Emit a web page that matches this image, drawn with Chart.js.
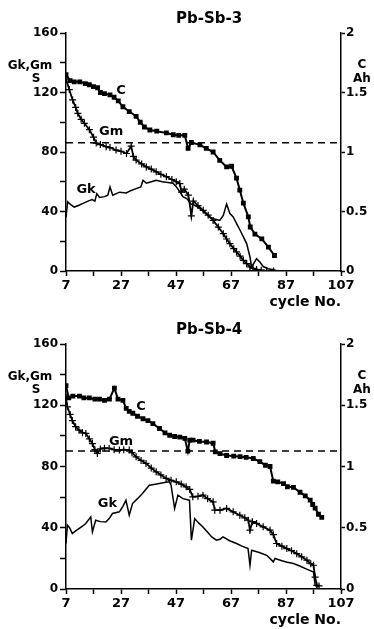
<!DOCTYPE html>
<html>
<head>
<meta charset="utf-8">
<script src="https://cdn.jsdelivr.net/npm/chart.js@4"></script>
<style>
  body { margin: 0; background: #fff; }
  canvas { position: absolute; left: 0; }
  #chart3 { top: 0; }
  #chart4 { top: 310px; }
</style>
</head>
<body>
<canvas id="chart3" width="374" height="310"></canvas>
<canvas id="chart4" width="374" height="319"></canvas>
<script>
// cycle No. ticks
const xTicks = [7, 17, 27, 37, 47, 57, 67, 77, 87, 97, 107];

// Pb-Sb-3 : [cycle, value]  (C in Ah, Gk/Gm in S)
const c3 = [[7,1.65],[8.5,1.6],[10,1.59],[12,1.59],[14,1.575],[15.5,1.565],[17,1.55],[18.5,1.54],[19.5,1.5],[21,1.49],
  [23,1.48],[24.5,1.46],[26,1.43],[27.7,1.38],[30,1.34],[32.5,1.3],[34,1.25],[35.5,1.21],[37.5,1.185],[40,1.175],
  [43.5,1.16],[46,1.145],[48,1.14],[50.2,1.14],[51.4,1.03],[52.6,1.08],[55.7,1.06],[58,1.03],[60.5,1.0],[62.9,0.93],
  [65.4,0.875],[67.2,0.88],[69,0.78],[70.2,0.68],[71.5,0.57],[73.3,0.455],[74,0.37],[75.7,0.31],[78.2,0.27],[80.6,0.2],[82.8,0.13]];
const gm3 = [[7,129],[8.2,122],[9.4,115],[10.5,110],[11.3,106],[12.5,102],[13.7,99.3],[15.5,95],[17,90],[18,86],
  [19.5,85],[21.6,83.6],[23,83],[25.2,81.3],[27,80.5],[29,79],[30.7,84],[31.5,77],[32.5,74.6],[34.5,72],
  [36.2,70],[38,68.5],[39.8,66.7],[41.5,65],[43.5,63.4],[45.5,61.5],[47.1,60],[48.4,58.8],[49,53],[50,55],
  [51.5,51],[52.6,37],[53.3,47],[55,44],[56.9,40.8],[58.7,37.5],[60.5,34],[62.4,29.5],[64.2,25.1],[65.4,21.5],
  [66.6,18.4],[68,15],[69,12.8],[70.3,10],[71.5,7.2],[72.7,5],[73.9,2.7],[75,1.8],[76.3,1],[78,0.5],[80,0],[82.5,0]];
const gk3 = [[7,36],[7.6,46.5],[8.5,45],[10,43],[11.5,44],[13,45.3],[15,47],[16.5,48],[17.5,47],[18.2,52],
  [19.2,49.5],[21,50],[22.2,51],[23,56.5],[24,51],[26.5,53],[28.9,52.5],[30.5,54],[32.5,55.4],[34.2,56.5],
  [35,61],[36.2,59],[38,60],[39.8,61],[42,60],[44,59.5],[45.9,59],[47.1,56.6],[48.5,53],[49.5,50],
  [51,48.5],[52.5,45],[54,44],[55.7,42],[57.5,39],[59.3,36],[61,35],[62.9,34],[64.2,37.4],[65.4,45],
  [66.6,38.6],[67.8,36.3],[69,32],[70.3,27.4],[71.5,23],[72.7,18.4],[73.9,9.4],[74.5,2.7],[76.3,8.3],[77.5,6],
  [78.7,3],[80.5,1.5],[82.4,0.8],[84,0]];
const ref3 = [[7,86.3],[107,86.3]];

// Pb-Sb-4
const c4 = [[7,1.66],[8,1.56],[9.5,1.575],[11.9,1.575],[13.5,1.56],[15.5,1.56],[17.5,1.55],[19.2,1.55],[21,1.54],[22.8,1.55],
  [24.6,1.64],[25.9,1.55],[27.7,1.54],[28.9,1.475],[30,1.45],[31.3,1.435],[33,1.41],[35,1.39],[36.8,1.375],[38.6,1.35],
  [41,1.31],[43,1.275],[44.7,1.255],[46.5,1.245],[48.4,1.24],[50.2,1.23],[51.3,1.125],[52,1.215],[53.2,1.215],[55.5,1.205],
  [58.1,1.2],[60.5,1.19],[61.3,1.12],[63,1.105],[65.4,1.09],[68,1.085],[70.3,1.08],[72.5,1.075],[75.1,1.065],[77.5,1.04],
  [79.5,1.01],[81.2,1.0],[82.4,0.88],[84,0.875],[86.1,0.86],[87.5,0.835],[89.7,0.83],[92.1,0.79],[94,0.76],[95.8,0.725],
  [96.7,0.69],[97.6,0.66],[98.8,0.61],[100,0.585]];
const gm4 = [[7,125],[7.5,119],[8.5,114],[9.3,110],[10.5,106],[11.7,103.8],[13,102],[14.2,101.6],[15.5,98],[16.6,95],
  [17.5,91],[18.4,88.5],[19.5,91.5],[21,92],[22.7,91.8],[24.5,91],[26.4,90.7],[28,91],[30,90.7],[31,89],
  [32.5,86.3],[34.3,84],[36.1,82],[38,79],[39.8,76.5],[41.5,74.5],[43.4,72.2],[45.2,71],[47.1,70],[48.9,68.5],
  [50.7,66.7],[52,65],[53.1,60.2],[55,60.5],[56.8,61.3],[58.5,59],[60.5,56.9],[61.1,51.5],[63,51.5],[65.4,52.6],
  [67.8,50.4],[70.2,48.2],[72,46.5],[73.3,44.9],[73.9,38.4],[74.8,44],[76.3,42.8],[78.7,40.6],[81.2,38.4],[82.4,35.5],
  [83.6,29.7],[85.5,28],[87.3,26.4],[89,25],[90.9,23.1],[92.7,21],[94.6,18.8],[96,16.5],[97,15.5],[97.6,7.8],
  [98.2,2.4],[99,2]];
const gk4 = [[7,29.7],[7.5,41.7],[8.3,40],[9.3,36.2],[10.5,38],[11.7,39.5],[13,41],[14.2,42.8],[16,47.1],[16.6,37.3],
  [17.8,44.9],[19.5,44],[21.5,43.8],[22.7,46],[23.9,49.3],[26.4,50.4],[27.7,54],[28.8,58],[30,48.2],[31.2,55.8],
  [33,59],[34.8,62.4],[36,65],[37.3,67.8],[39,68.3],[40.9,68.9],[42.8,69.5],[44.6,70],[45.2,67.8],[46.5,52.6],
  [47.7,61.3],[49.5,59],[51.9,58],[52.6,31.9],[53.8,46],[55.3,43],[56.8,40.5],[58.5,37],[60,34],[61.7,31.9],
  [63,32.5],[64.1,34],[66.5,31.5],[69,29.7],[71,28],[73.2,26.4],[73.9,15.5],[74.5,25.3],[77,24],[80,22],
  [82.4,17.7],[83,19.9],[85.5,18.5],[87.5,17.5],[89.7,16.6],[92,15],[94.5,13],[97,11.1],[97.6,2.4],[98.8,1.3]];
const ref4 = [[7,90.2],[107,90.2]];

const FONT = '"DejaVu Sans", Arial, sans-serif';
Chart.defaults.font.family = FONT;
Chart.defaults.font.weight = 'bold';
Chart.defaults.color = '#000';

const pts = arr => arr.map(p => ({ x: p[0], y: p[1] }));

// titles, axis captions and curve names
const textPlugin = {
  id: 'texts',
  afterDraw(chart, args, opts) {
    const ctx = chart.ctx;
    const a = chart.chartArea;
    const xs = chart.scales.x, ys = chart.scales.y;
    ctx.save();
    ctx.fillStyle = '#000';
    ctx.textBaseline = 'middle';
    ctx.textAlign = 'center';
    ctx.font = 'bold 15px ' + FONT;
    ctx.fillText(opts.title, 209, a.top - 14);
    ctx.font = 'bold 12px ' + FONT;
    ctx.fillText('Gk,Gm', 30, a.top + 33);
    ctx.fillText('S', 36, a.top + 46);
    ctx.fillText('C', 362, a.top + 32);
    ctx.fillText('Ah', 362, a.top + 46);
    ctx.font = 'bold 14px ' + FONT;
    ctx.textAlign = 'right';
    ctx.fillText('cycle No.', a.right, a.bottom + 31);
    ctx.textAlign = 'center';
    ctx.font = 'bold 13px ' + FONT;
    opts.labels.forEach(l => ctx.fillText(l[0], xs.getPixelForValue(l[1]), ys.getPixelForValue(l[2])));
    ctx.restore();
  }
};

function makeChart(id, title, c, gm, gk, ref, labels, xHeight, topPad) {
  const axisGrid = len => ({ drawOnChartArea: false, drawTicks: true, tickLength: len, color: '#000', tickWidth: 1.5 });
  const axisBorder = { display: true, color: '#000', width: 1.5 };
  new Chart(document.getElementById(id), {
    type: 'line',
    data: {
      datasets: [
        { data: pts(ref), borderColor: '#000', borderWidth: 1.5, borderDash: [7, 5], pointRadius: 0, yAxisID: 'y' },
        { data: pts(gk), borderColor: '#000', borderWidth: 1.5, pointRadius: 0, yAxisID: 'y' },
        { data: pts(gm), borderColor: '#000', borderWidth: 1.8, pointStyle: 'cross', pointRadius: 3.5,
          pointBorderWidth: 1.2, pointBorderColor: '#000', yAxisID: 'y' },
        { data: pts(c), borderColor: '#000', borderWidth: 2, pointStyle: 'rect', pointRadius: 2,
          pointBackgroundColor: '#000', pointBorderColor: '#000', yAxisID: 'y1' }
      ]
    },
    options: {
      responsive: false,
      animation: false,
      devicePixelRatio: 1,
      layout: { padding: { top: topPad, left: 0, right: 0, bottom: 0 } },
      elements: { line: { tension: 0 } },
      plugins: {
        legend: { display: false },
        tooltip: { enabled: false },
        texts: { title: title, labels: labels }
      },
      scales: {
        x: {
          type: 'linear', min: 7, max: 107,
          afterBuildTicks: s => { s.ticks = xTicks.map(v => ({ value: v })); },
          ticks: { callback: v => ((Math.round(v) - 7) % 20 === 0 ? String(Math.round(v)) : ''),
                   font: { size: 13, weight: 'bold' }, padding: 2, maxRotation: 0, autoSkip: false },
          grid: axisGrid(5), border: axisBorder,
          afterFit: s => { s.height = xHeight; }
        },
        y: {
          position: 'left', min: 0, max: 160,
          ticks: { stepSize: 20, callback: v => (v % 40 === 0 ? String(v) : ''), font: { size: 12, weight: 'bold' }, padding: 2 },
          grid: axisGrid(6), border: axisBorder,
          afterFit: s => { s.width = 66; }
        },
        y1: {
          position: 'right', min: 0, max: 2,
          ticks: { stepSize: 0.5, callback: v => String(v), font: { size: 12, weight: 'bold' }, padding: 1 },
          grid: axisGrid(4), border: axisBorder,
          afterFit: s => { s.width = 33; }
        }
      }
    },
    plugins: [textPlugin]
  });
}

makeChart('chart3', 'Pb-Sb-3', c3, gm3, gk3, ref3,
  [['C', 27, 121.5], ['Gm', 23.4, 93.9], ['Gk', 14.3, 54.7]], 39, 33);
makeChart('chart4', 'Pb-Sb-4', c4, gm4, gk4, ref4,
  [['C', 34.3, 119], ['Gm', 27, 96.1], ['Gk', 22.1, 55.8]], 40, 34);
</script>
</body>
</html>
